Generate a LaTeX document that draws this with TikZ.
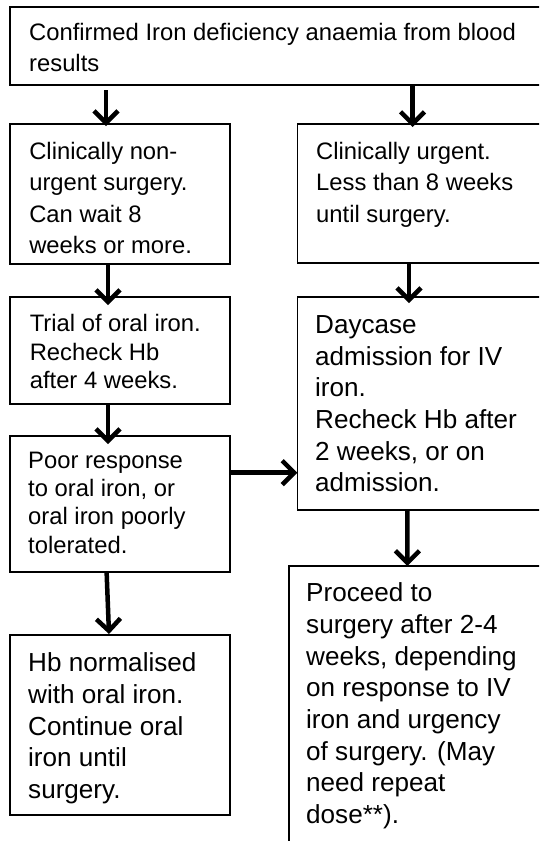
\documentclass[tikz,border=0pt]{standalone}
\usepackage{fontspec}
\setmainfont{Liberation Sans}
\usetikzlibrary{arrows.meta,calc}

\begin{document}
\begin{tikzpicture}[x=1pt,y=-1pt,
    box/.style={draw,line width=1.8pt,inner sep=0pt,outer sep=0pt,anchor=north west},
    smalltxt/.style={font=\fontsize{23.8}{31.5}\selectfont,align=left,inner sep=0pt,anchor=base west},
    tighttxt/.style={font=\fontsize{23.8}{28.3}\selectfont,align=left,inner sep=0pt,anchor=base west},
    bigtxt/.style={font=\fontsize{26.1}{31.7}\selectfont,align=left,inner sep=0pt,anchor=base west},
    arr/.style={line width=4.5pt,-{Straight Barb[length=12pt,width=24pt]}}]
    \useasboundingbox (0,0) rectangle (539,841);
    \clip (0,0) rectangle (539,841);

    \node[box,minimum width=536,minimum height=77.7] (conf) at (9.6,7.3) {};
    \node[box,minimum width=220,minimum height=140] (nonurg) at (9.6,124.3) {};
    \node[box,minimum width=248,minimum height=139] (urg) at (297.4,124.3) {};
    \node[box,minimum width=220,minimum height=106.7] (oral) at (9.6,297.3) {};
    \node[box,minimum width=248,minimum height=212.7] (ivday) at (297.4,297.3) {};
    \node[box,minimum width=220,minimum height=136] (poor) at (9.6,435.7) {};
    \node[box,minimum width=220,minimum height=180] (hbok) at (9.6,635) {};
    \node[box,minimum width=257,minimum height=290] (proceed) at (288.8,566) {};

    % base anchor sits on the last line
    \node[smalltxt] (conftxt) at ($(conf.north west)+(19.4,64.2)$) {Confirmed Iron deficiency anaemia from blood\\results};
    \node[smalltxt] (nonurgtxt) at ($(nonurg.north west)+(19.5,129.5)$) {Clinically non-\\urgent surgery.\\Can wait 8\\weeks or more.};
    \node[smalltxt] (urgtxt) at ($(urg.north west)+(18.6,98)$) {Clinically urgent.\\Less than 8 weeks\\until surgery.};
    \node[tighttxt] (oraltxt) at ($(oral.north west)+(20,91)$) {Trial of oral iron.\\Recheck Hb\\after 4 weeks.};
    \node[bigtxt] (ivdaytxt) at ($(ivday.north west)+(17.6,194.5)$) {Daycase\\admission for IV\\iron.\\Recheck Hb after\\2 weeks, or on\\admission.};
    \node[tighttxt] (poortxt) at ($(poor.north west)+(18.4,117.5)$) {Poor response\\to oral iron, or\\oral iron poorly\\tolerated.};
    \node[bigtxt] (hboktxt) at ($(hbok.north west)+(18.4,163.4)$) {Hb normalised\\with oral iron.\\Continue oral\\iron until\\surgery.};
    \node[bigtxt] (proceedtxt) at ($(proceed.north west)+(17.2,257.6)$) {Proceed to\\surgery after 2-4\\weeks, depending\\on response to IV\\iron and urgency\\of surgery. (May\\need repeat\\dose**).};

    \draw[arr] ([shift={(96.4,5)}]conf.south west) -- ([shift={(96.4,1.7)}]nonurg.north west);
    \draw[arr] ([shift={(402.9,0)}]conf.south west) -- ([shift={(115.1,2.7)}]urg.north west);
    \draw[arr] ([shift={(98.4,0)}]nonurg.south west) -- ([shift={(98.4,7.7)}]oral.north west);
    \draw[arr] ([shift={(111.6,0)}]urg.south west) -- ([shift={(111.6,5.7)}]ivday.north west);
    \draw[arr] ([shift={(98.4,0)}]oral.south west) -- ([shift={(98.4,8.3)}]poor.north west);
    \draw[arr] ([shift={(0,37)}]poor.north east) -- ([shift={(0,175.4)}]ivday.north west);
    \draw[arr] ([shift={(110,0)}]ivday.south west) -- ([shift={(118.6,0)}]proceed.north west);
    \draw[arr] ([shift={(97,0)}]poor.south west) -- ([shift={(99.4,-1)}]hbok.north west);
\end{tikzpicture}
\end{document}
